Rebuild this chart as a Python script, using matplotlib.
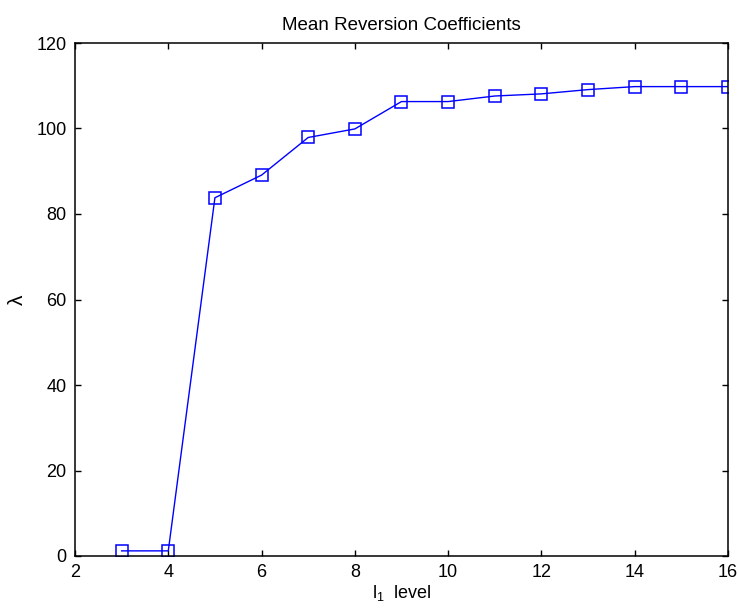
import numpy as np
import matplotlib.pyplot as plt

plt.rcParams['font.family'] = ['Liberation Sans', 'DejaVu Sans']

# l1 levels and mean reversion coefficients
levels = [3, 4, 5, 6, 7, 8, 9, 10, 11, 12, 13, 14, 15, 16]
lam = [1.2, 1.2, 83.8, 89.1, 97.9, 99.9, 106.3, 106.3, 107.6, 108.1, 109.1, 109.8, 109.8, 109.8]

xticks = [2, 4, 6, 8, 10, 12, 14, 16]
yticks = [0, 20, 40, 60, 80, 100, 120]

fig = plt.figure(figsize=(7.38, 6.13), dpi=100)
ax = fig.add_axes([75/738, 57/613, 653/738, 513/613])

ax.plot(levels, lam, color='#0000ff', lw=1, marker='s', ms=8.5,
        mfc='none', mec='#0000ff', mew=1.1)

ax.set_xlim(2, 16)
ax.set_ylim(0, 120)
ax.set_xticks(xticks)
ax.set_yticks(yticks)
ax.tick_params(direction='in', length=4.5, width=1, top=True, right=True,
               labelsize=13, pad=6, colors='black')
for s in ax.spines.values():
    s.set_linewidth(1.1)

ax.set_title('Mean Reversion Coefficients', fontsize=13.5, pad=9)
ax.set_xlabel(r'$\mathregular{l_1}$  level', fontsize=13, labelpad=1)
ax.set_ylabel('λ', fontsize=15, labelpad=7)

fig.savefig('out.png', dpi=100)
